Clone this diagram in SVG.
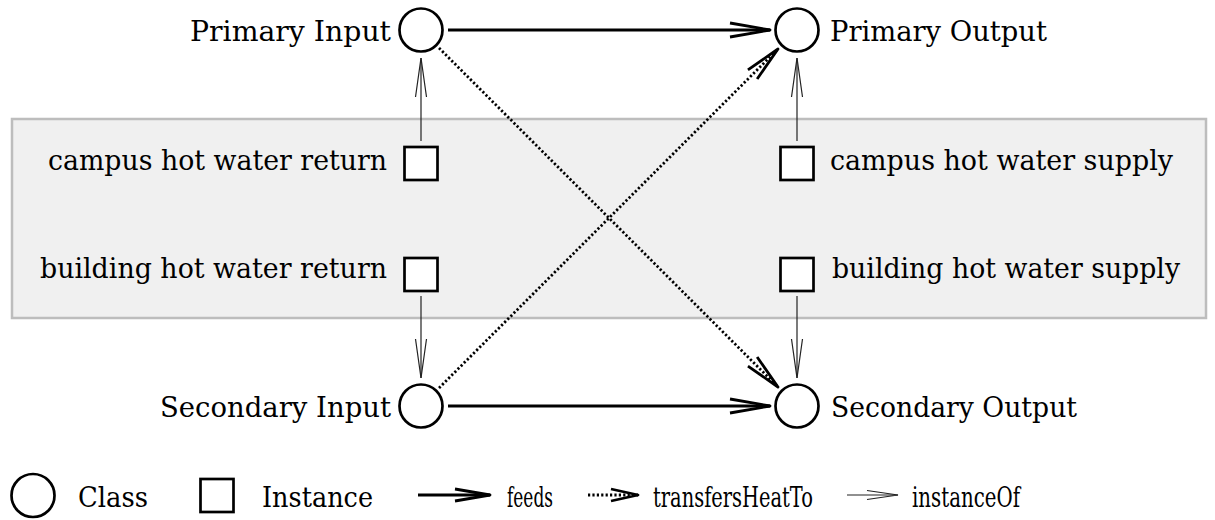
<svg xmlns="http://www.w3.org/2000/svg" width="1215" height="520" viewBox="0 0 1215 520">
  <style>
    .lbl { font-family: "DejaVu Serif", "Liberation Serif", serif; font-size: 28px; fill: #000; }
    .cls { fill: #fff; stroke: #000; stroke-width: 2.7; }
    .inst { fill: #fff; stroke: #000; stroke-width: 2.7; }
    .feeds { fill: none; stroke: #000; stroke-width: 2.8; }
    .heat { fill: none; stroke: #000; stroke-width: 2.8; stroke-dasharray: 2.2 2.2; }
    .inof { fill: none; stroke: #222; stroke-width: 1.2; }
  </style>
  <defs>
    <marker id="mFeeds" markerUnits="userSpaceOnUse" viewBox="-42 -9 44 18" refX="0" refY="0" markerWidth="44" markerHeight="18" orient="auto" overflow="visible">
      <path d="M-40,-7 L0,0 L-40,7" fill="none" stroke="#000" stroke-width="2.8" stroke-linejoin="round"/>
    </marker>
    <marker id="mHeat" markerUnits="userSpaceOnUse" viewBox="-40 -9 42 18" refX="0" refY="0" markerWidth="42" markerHeight="18" orient="auto" overflow="visible">
      <path d="M-36,-6.5 L0,0 L-36,6.5" fill="none" stroke="#000" stroke-width="2.8" stroke-linejoin="round"/>
    </marker>
    <marker id="mInst" markerUnits="userSpaceOnUse" viewBox="-42 -7 44 14" refX="0" refY="0" markerWidth="44" markerHeight="14" orient="auto" overflow="visible">
      <path d="M-39,-5.5 L0,0 L-39,5.5" fill="none" stroke="#222" stroke-width="1.2"/>
    </marker>
    <marker id="mInstS" markerUnits="userSpaceOnUse" viewBox="-34 -6 36 12" refX="0" refY="0" markerWidth="36" markerHeight="12" orient="auto" overflow="visible">
      <path d="M-31,-4.5 L0,0 L-31,4.5" fill="none" stroke="#222" stroke-width="1.2"/>
    </marker>
    <marker id="mFeedsS" markerUnits="userSpaceOnUse" viewBox="-38 -8 40 16" refX="0" refY="0" markerWidth="40" markerHeight="16" orient="auto" overflow="visible">
      <path d="M-35,-6 L0,0 L-35,6" fill="none" stroke="#000" stroke-width="2.8" stroke-linejoin="round"/>
    </marker>
    <marker id="mHeatS" markerUnits="userSpaceOnUse" viewBox="-30 -8 32 16" refX="0" refY="0" markerWidth="32" markerHeight="16" orient="auto" overflow="visible">
      <path d="M-27,-6 L0,0 L-27,6" fill="none" stroke="#000" stroke-width="2.8" stroke-linejoin="round"/>
    </marker>
  </defs>

  <rect id="instance-box" x="12" y="119" width="1194" height="199" fill="#f0f0f0" stroke="#bdbdbd" stroke-width="2.5"/>

  <g id="connectors">
    <line class="feeds" x1="448" y1="30" x2="770" y2="30" marker-end="url(#mFeeds)"/>
    <line class="feeds" x1="448" y1="406" x2="770" y2="406" marker-end="url(#mFeeds)"/>
    <line class="heat" x1="439" y1="48" x2="778" y2="387" marker-end="url(#mHeat)"/>
    <line class="heat" x1="439" y1="388" x2="778" y2="49" marker-end="url(#mHeat)"/>
    <line class="inof" x1="421" y1="141" x2="421" y2="58" marker-end="url(#mInst)"/>
    <line class="inof" x1="797" y1="141" x2="797" y2="58" marker-end="url(#mInst)"/>
    <line class="inof" x1="421" y1="296" x2="421" y2="378" marker-end="url(#mInst)"/>
    <line class="inof" x1="797" y1="296" x2="797" y2="378" marker-end="url(#mInst)"/>
  </g>

  <g id="primary-input">
    <circle class="cls" cx="421" cy="30" r="21.5"/>
    <text class="lbl" x="391" y="41" text-anchor="end" textLength="201" lengthAdjust="spacingAndGlyphs">Primary Input</text>
  </g>
  <g id="primary-output">
    <circle class="cls" cx="797" cy="30" r="21.5"/>
    <text class="lbl" x="830" y="41" textLength="217" lengthAdjust="spacingAndGlyphs">Primary Output</text>
  </g>
  <g id="secondary-input">
    <circle class="cls" cx="421" cy="406" r="21.5"/>
    <text class="lbl" x="391" y="417" text-anchor="end" textLength="231" lengthAdjust="spacingAndGlyphs">Secondary Input</text>
  </g>
  <g id="secondary-output">
    <circle class="cls" cx="797" cy="406" r="21.5"/>
    <text class="lbl" x="831" y="417" textLength="246" lengthAdjust="spacingAndGlyphs">Secondary Output</text>
  </g>

  <g id="campus-hot-water-return">
    <rect class="inst" x="404.5" y="147" width="33" height="33"/>
    <text class="lbl" x="387" y="170" text-anchor="end" textLength="339" lengthAdjust="spacingAndGlyphs">campus hot water return</text>
  </g>
  <g id="building-hot-water-return">
    <rect class="inst" x="404.5" y="258" width="33" height="33"/>
    <text class="lbl" x="387" y="278" text-anchor="end" textLength="347" lengthAdjust="spacingAndGlyphs">building hot water return</text>
  </g>
  <g id="campus-hot-water-supply">
    <rect class="inst" x="780.5" y="147" width="33" height="33"/>
    <text class="lbl" x="830" y="170" textLength="343" lengthAdjust="spacingAndGlyphs">campus hot water supply</text>
  </g>
  <g id="building-hot-water-supply">
    <rect class="inst" x="780.5" y="258" width="33" height="33"/>
    <text class="lbl" x="832" y="278" textLength="348" lengthAdjust="spacingAndGlyphs">building hot water supply</text>
  </g>

  <g id="legend">
    <circle class="cls" cx="33" cy="495.5" r="21.5"/>
    <text class="lbl" x="78" y="507" textLength="70" lengthAdjust="spacingAndGlyphs">Class</text>
    <rect class="inst" x="200.5" y="479" width="33" height="33"/>
    <text class="lbl" x="262" y="507" textLength="111" lengthAdjust="spacingAndGlyphs">Instance</text>
    <line class="feeds" x1="418" y1="495" x2="490" y2="495" marker-end="url(#mFeedsS)"/>
    <text class="lbl" x="507" y="507" textLength="46" lengthAdjust="spacingAndGlyphs">feeds</text>
    <line class="heat" x1="588" y1="495" x2="638" y2="495" marker-end="url(#mHeatS)"/>
    <text class="lbl" x="653" y="507" textLength="160" lengthAdjust="spacingAndGlyphs">transfersHeatTo</text>
    <line class="inof" x1="847" y1="495" x2="898" y2="495" marker-end="url(#mInstS)"/>
    <text class="lbl" x="912" y="507" textLength="108" lengthAdjust="spacingAndGlyphs">instanceOf</text>
  </g>
</svg>
